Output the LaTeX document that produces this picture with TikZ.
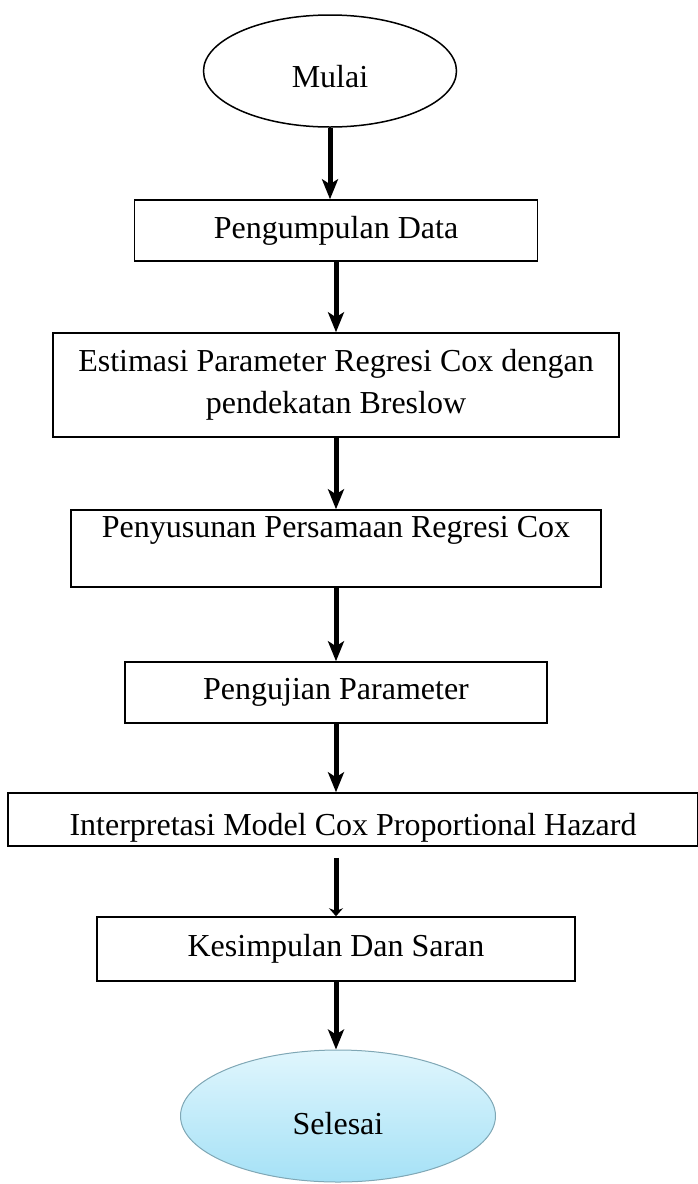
\documentclass[tikz,border=0pt]{standalone}
\usepackage{fontspec}
\setmainfont{Liberation Serif}
\usepackage{tikz}
\usetikzlibrary{arrows.meta,shapes,positioning}
\definecolor{selTop}{HTML}{E0F6FD}
\definecolor{selBot}{HTML}{A5E1F6}
\definecolor{selEdge}{HTML}{7FA7B5}

\begin{document}
\begin{tikzpicture}[x=1pt,y=-1pt,
    box/.style={rectangle,draw,line width=1.5pt,inner sep=0pt,align=center,font=\fontsize{32}{42}\selectfont},
    term/.style={ellipse,inner sep=0pt,font=\fontsize{32}{42}\selectfont},
    arrow/.style={-{Stealth[length=20pt,width=16pt,inset=5pt]},line width=5pt}
]
    \useasboundingbox (0,0) rectangle (698,1184);

    % Start
    \node[term,draw,line width=1.5pt,minimum width=253pt,minimum height=112pt,text height=32pt,text depth=0pt] (mulai) at (330,71) {Mulai};

    % Step 1: data
    \node[box,minimum width=403pt,minimum height=61pt] (kumpul) at (336,230.5) {Pengumpulan Data};
    \draw[arrow] (mulai) -- (mulai |- kumpul.north);

    % Step 2: Breslow estimation
    \node[box,minimum width=566pt,minimum height=104pt] (estimasi) at (336,385) {Estimasi Parameter Regresi Cox dengan\\pendekatan Breslow};
    \draw[arrow] (kumpul) -- (kumpul |- estimasi.north);

    % Step 3: equation (text sits high in the box)
    \node[box,minimum width=530pt,minimum height=77pt,inner ysep=6pt,text depth=43pt] (susun) at (336,548.5) {Penyusunan Persamaan Regresi Cox};
    \draw[arrow] (estimasi) -- (estimasi |- susun.north);

    % Step 4: tests
    \node[box,minimum width=422pt,minimum height=61pt] (uji) at (336,692.5) {Pengujian Parameter};
    \draw[arrow] (susun) -- (susun |- uji.north);

    % Step 5: interpretation (text sits low in the box)
    \node[box,minimum width=690pt,minimum height=53pt,text height=42pt,text depth=11pt] (interp) at (353,819.5) {Interpretasi Model Cox Proportional Hazard};
    \draw[arrow] (uji) -- (uji |- interp.north);

    % Step 6: conclusion
    \node[box,minimum width=478pt,minimum height=64pt] (simpul) at (336,949) {Kesimpulan Dan Saran};
    \draw[-{Stealth[length=8pt,width=14pt]},line width=5pt,shorten <=11pt] (simpul |- interp.south) -- (simpul);

    % End
    \node[term,draw=selEdge,line width=1pt,top color=selTop,bottom color=selBot,minimum width=315pt,minimum height=132pt,text height=36pt,text depth=0pt] (selesai) at (338,1116) {Selesai};
    \draw[arrow] (simpul) -- (simpul |- selesai.north);
\end{tikzpicture}
\end{document}
